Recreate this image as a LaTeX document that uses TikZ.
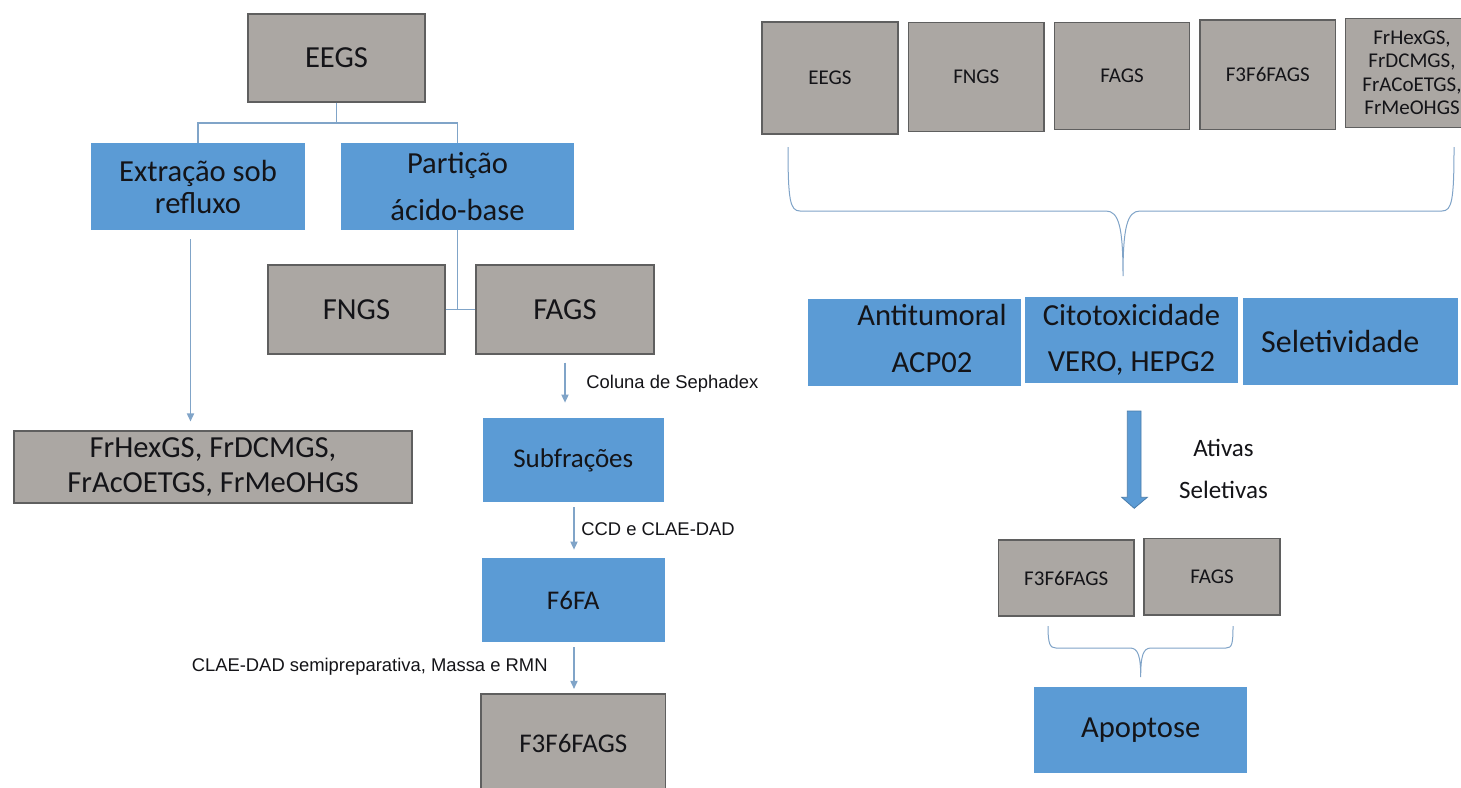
\documentclass[tikz,border=0pt]{standalone}
\usepackage{fontspec}
\setmainfont{Carlito}
\newfontfamily\arialfont{Liberation Sans}
\usepackage{tikz}
\usetikzlibrary{arrows.meta,calc}

\definecolor{boxgray}{RGB}{171,167,163}
\definecolor{boxedge}{RGB}{95,95,95}
\definecolor{boxblue}{RGB}{91,155,213}
\definecolor{linkblue}{RGB}{128,164,200}
\definecolor{inkdark}{RGB}{20,20,24}

\tikzset{
  link/.style={draw=linkblue, line width=0.6pt},
  flow/.style={link, -{Triangle[width=3.6pt,length=4pt]}},
  brace/.style={draw=linkblue, line width=0.5pt},
  steplabel/.style={font=\arialfont\fontsize{9.2}{11}\selectfont, text=inkdark, inner sep=0pt}
}

\begin{document}
\begin{tikzpicture}[x=0.5pt,y=-0.5pt]
\fill[white] (0,0) rectangle (1461,787);
\useasboundingbox (0,0) rectangle (1461,787);

% left: gray boxes
\begin{scope}[every node/.style={rectangle, fill=boxgray, draw=boxedge, line width=0.6pt, inner sep=0pt, align=center, text=inkdark, font=\fontsize{15.3}{18}\selectfont}]
\node[minimum width=88.5pt, minimum height=44pt] (EEGS) at (336.5,58) {EEGS};
\node[minimum width=88.5pt, minimum height=44.5pt] (FNGS) at (356.5,309.5) {FNGS};
\node[minimum width=89pt, minimum height=44.5pt] (FAGS) at (565,309.5) {FAGS};
\node[minimum width=199pt, minimum height=36pt, font=\fontsize{15.3}{17.8}\selectfont] (HEX) at (213,467) {FrHexGS, FrDCMGS,\\FrAcOETGS, FrMeOHGS};
\node[minimum width=92.25pt, minimum height=49pt, font=\fontsize{13.5}{16}\selectfont] (F3F6) at (573.25,743) {F3F6FAGS};
\end{scope}

% left: blue boxes
\begin{scope}[every node/.style={rectangle, fill=boxblue, inner sep=0pt, align=center, text=inkdark, font=\fontsize{15.3}{18}\selectfont}]
\node[minimum width=107pt, minimum height=43.5pt, font=\fontsize{15.3}{16}\selectfont] (EXTR) at (198,186.5) {Extração sob\\refluxo};
\node[minimum width=116.5pt, minimum height=43.5pt, font=\fontsize{15.3}{23.5}\selectfont] (PART) at (457.5,186.5) {Partição\\ácido-base};
\node[minimum width=90.75pt, minimum height=42pt, font=\fontsize{13.5}{16}\selectfont] (SUB) at (573.25,460) {Subfrações};
\node[minimum width=91.25pt, minimum height=42pt, font=\fontsize{13.5}{16}\selectfont] (F6FA) at (573.25,600) {F6FA};
\end{scope}

% right: gray boxes
\begin{scope}[every node/.style={rectangle, fill=boxgray, draw=boxedge, line width=0.6pt, inner sep=0pt, align=center, text=inkdark, font=\fontsize{10.5}{11.7}\selectfont}]
\node[minimum width=68pt, minimum height=56pt] (R-EEGS) at (830,78) {EEGS};
\node[minimum width=67.7pt, minimum height=54.7pt] (R-FNGS) at (976.3,77) {FNGS};
\node[minimum width=67.5pt, minimum height=53.5pt] (R-FAGS) at (1122,75.8) {FAGS};
\node[minimum width=67.8pt, minimum height=54.7pt] (R-F3F6) at (1267.8,74.7) {F3F6FAGS};
\node[minimum width=66.4pt, minimum height=54.5pt] (R-HEX) at (1412,72.8) {FrHexGS,\\FrDCMGS,\\FrACoETGS,\\FrMeOHGS};
\node[minimum width=67.85pt, minimum height=38pt] (B-F3F6) at (1066.2,578) {F3F6FAGS};
\node[minimum width=68pt, minimum height=38.25pt] (B-FAGS) at (1212,576.7) {FAGS};
\end{scope}

% right: blue boxes
\begin{scope}[every node/.style={rectangle, fill=boxblue, inner sep=0pt, align=center, text=inkdark, font=\fontsize{15.3}{23.3}\selectfont}]
\node[minimum width=106.5pt, minimum height=43.5pt] (ANTI) at (914.5,342.5) {};
\node[minimum width=106.5pt, minimum height=43.3pt] (CITO) at (1131.5,340) {Citotoxicidade\\VERO, HEPG2};
\node[minimum width=107.25pt, minimum height=43.6pt] (SELET) at (1350.25,341.3) {};
\node[minimum width=106.65pt, minimum height=43.3pt] (APOP) at (1140.7,730) {Apoptose};
\end{scope}
\node[align=center, inner sep=0pt, text=inkdark, font=\fontsize{15.3}{23.3}\selectfont] (ANTI-T) at ($(ANTI.center)+(17.5,-4)$) {Antitumoral\\ACP02};
\node[inner sep=0pt, text=inkdark, font=\fontsize{16}{19}\selectfont] (SELET-T) at ($(SELET.center)+(-10,0)$) {Seletividade};

% tree connectors
\coordinate (fork) at (336.5,123);
\draw[link] (EEGS.south) -- (fork);
\draw[link] (EXTR.north) |- (fork) -| (PART.north);
\draw[link] (PART.south) -- (PART.south |- FNGS.east);
\draw[link] (FNGS.east) -- (FAGS.west);

% arrows
\draw[flow] ($(EXTR.south)+(-7.5,9)$) -- ($(EXTR.south |- HEX.north)+(-7.5,-9)$);
\draw[flow] ($(FAGS.south)+(0,8)$) -- ($(FAGS.south |- SUB.north)+(0,-15)$);
\draw[flow] ($(SUB.south)+(0.75,5)$) -- ($(F6FA.north)+(0.75,-8)$);
\draw[flow] ($(F6FA.south)+(0.75,5)$) -- ($(F3F6.north)+(0.75,-4.5)$);

\node[steplabel, anchor=west] (SEPH) at (586,384) {Coluna de Sephadex};
\node[steplabel, anchor=west] (CCD) at (581,529) {CCD e CLAE-DAD};
\node[steplabel, anchor=east] (CLAE) at (548,667) {CLAE-DAD semipreparativa, Massa e RMN};

% braces
\draw[brace] (788,147) .. controls (788,200) and (790,211) .. (800,211) -- (1106,211)
  .. controls (1119,211) and (1123,228) .. (1123,276)
  .. controls (1123,228) and (1127,211) .. (1140,211) -- (1442,211)
  .. controls (1452,211) and (1454,200) .. (1454,147);
\draw[brace] (1048,626) .. controls (1048,644) and (1050,648) .. (1056,648) -- (1130,648)
  .. controls (1138,648) and (1140.7,656) .. (1140.7,677)
  .. controls (1140.7,656) and (1143,648) .. (1151,648) -- (1226,648)
  .. controls (1232,648) and (1233,644) .. (1233,626);

% big arrow
\filldraw[fill=boxblue, draw=boxblue!80!black, line width=0.4pt]
  (1127.3,411) -- (1141,411) -- (1141,497.3) -- (1147.3,497.3) -- (1134.2,508.3)
  -- (1121.7,497.3) -- (1127.3,497.3) -- cycle;
\node[align=center, inner sep=0pt, text=inkdark, font=\fontsize{12.5}{21}\selectfont] (ATIV) at (1223.5,469) {Ativas\\Seletivas};
\end{tikzpicture}
\end{document}
